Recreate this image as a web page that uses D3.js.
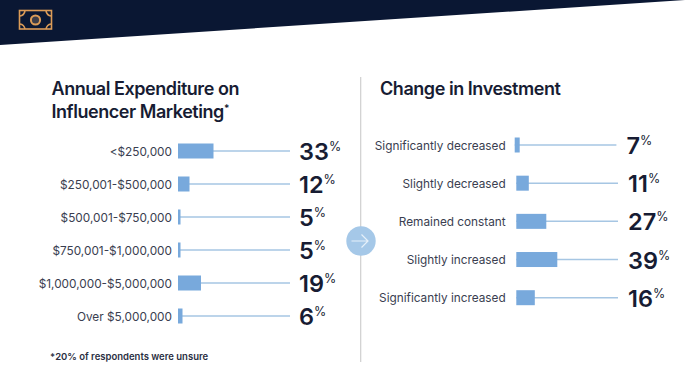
<!DOCTYPE html>
<html>
<head>
<meta charset="utf-8">
<script src="https://cdn.jsdelivr.net/npm/d3@7"></script>
<style>
  html, body { margin: 0; padding: 0; background: #fff; }
  svg { display: block; font-family: Inter, "Noto Sans", sans-serif; }
  .tick text { font-size: 11.8px; fill: #3a3e50; }
</style>
</head>
<body>
<div id="chart"></div>
<script>
// Left panel data
const spendCategories = ["<$250,000", "$250,001-$500,000", "$500,001-$750,000", "$750,001-$1,000,000", "$1,000,000-$5,000,000", "Over $5,000,000"];
const spendValues = [33, 12, 5, 5, 19, 6];

// Right panel data
const changeCategories = ["Significantly decreased", "Slightly decreased", "Remained constant", "Slightly increased", "Significantly increased"];
const changeValues = [7, 11, 27, 39, 16];

const navy = "#0a1733";
const ink = "#171c33";
const barBlue = "#78a9dc";
const lineBlue = "#a6c6e3";
const orange = "#dc9c58";

const svg = d3.select("#chart").append("svg")
  .attr("width", 700)
  .attr("height", 374);

// Slanted header band
svg.append("path")
  .attr("d", "M0,0 L685,0 L0,45 Z")
  .attr("fill", navy);

// Money icon
const icon = svg.append("g").attr("fill", "none").attr("stroke", orange).attr("stroke-width", 1.6);
icon.append("rect").attr("x", 19.5).attr("y", 10.5).attr("width", 32).attr("height", 18.5);
icon.append("circle").attr("cx", 35.5).attr("cy", 20).attr("r", 4.6).attr("stroke-width", 2).attr("fill", "#3d3d48");
icon.append("path").attr("d", "M20,16 Q24,15.5 25,11 M51,16 Q47,15.5 46,11 M20,24 Q24,24.5 25,29 M51,24 Q47,24.5 46,29");

// Titles
function addTitle(lines, x) {
  const t = svg.append("text")
    .attr("fill", ink)
    .attr("font-size", 18)
    .attr("font-weight", 600)
    .attr("letter-spacing", "-0.45px");
  lines.forEach((line, i) => {
    t.append("tspan").attr("x", x).attr("y", 94.5 + i * 23).text(line);
  });
  return t;
}
addTitle(["Annual Expenditure on", "Influencer Marketing"], 51.5)
  .append("tspan").attr("font-size", 10).attr("dy", -6).text("*");
addTitle(["Change in Investment"], 380);

// Footnote
svg.append("text")
  .attr("x", 50)
  .attr("y", 359.5)
  .attr("fill", "#2a2e42")
  .attr("font-size", 9.5)
  .attr("font-weight", 600)
  .text("*20% of respondents were unsure");

// Divider and arrow button
svg.append("line")
  .attr("x1", 360.7).attr("x2", 360.7)
  .attr("y1", 77).attr("y2", 362)
  .attr("stroke", "#cfcfcf").attr("stroke-width", 1.2);
svg.append("circle")
  .attr("cx", 361).attr("cy", 241).attr("r", 14.7)
  .attr("fill", "#a5c8e8");
svg.append("path")
  .attr("d", "M351.5,241 H368 M361.5,234.5 L368,241 L361.5,247.5")
  .attr("fill", "none")
  .attr("stroke", "#e6f0f9")
  .attr("stroke-width", 1.2);

// Draws one panel of bar + leader line + big number rows
function drawPanel(opts) {
  const y = d3.scalePoint().domain(opts.categories).range(opts.yRange);
  const x = d3.scaleLinear().domain(opts.lengthDomain).range(opts.lengthRange);
  const rows = opts.categories.map((c, i) => ({ c, v: opts.values[i], nudge: i === 0 ? opts.firstNudge : 0 }));

  const axis = svg.append("g")
    .attr("transform", `translate(${opts.labelX},0)`)
    .call(d3.axisLeft(y).tickSize(0).tickPadding(0))
    .attr("font-family", null);
  axis.select(".domain").remove();
  axis.selectAll("text").attr("dy", "0.35em");

  const g = svg.selectAll(null).data(rows).enter().append("g");

  g.append("line")
    .attr("x1", d => opts.barX + d.nudge)
    .attr("x2", d => opts.lineEnd + d.nudge)
    .attr("y1", d => y(d.c))
    .attr("y2", d => y(d.c))
    .attr("stroke", lineBlue)
    .attr("stroke-width", 1.5);

  g.append("rect")
    .attr("x", d => opts.barX + d.nudge)
    .attr("y", d => y(d.c) - 7.5)
    .attr("width", d => x(d.v))
    .attr("height", 15)
    .attr("fill", barBlue);

  const label = g.append("text")
    .attr("x", d => opts.valueX + d.nudge)
    .attr("y", d => y(d.c) + 9)
    .attr("fill", ink)
    .attr("font-size", 23.5)
    .attr("font-weight", 600);
  label.append("tspan").text(d => d.v);
  label.append("tspan")
    .attr("font-size", 12.5)
    .attr("font-weight", 400)
    .attr("dy", -9)
    .text("%");
}

drawPanel({
  categories: spendCategories,
  values: spendValues,
  yRange: [151, 316],
  labelX: 172,
  barX: 178,
  lineEnd: 290,
  valueX: 299,
  firstNudge: 0,
  lengthDomain: [5, 6, 12, 19, 33],
  lengthRange: [2.5, 4.5, 11.5, 23, 35.5]
});

drawPanel({
  categories: changeCategories,
  values: changeValues,
  yRange: [145, 297.7],
  labelX: 505.7,
  barX: 516.3,
  lineEnd: 618,
  valueX: 628,
  firstNudge: -1.6,
  lengthDomain: [7, 11, 16, 27, 39],
  lengthRange: [5, 12.5, 18.5, 30, 41]
});
</script>
</body>
</html>
